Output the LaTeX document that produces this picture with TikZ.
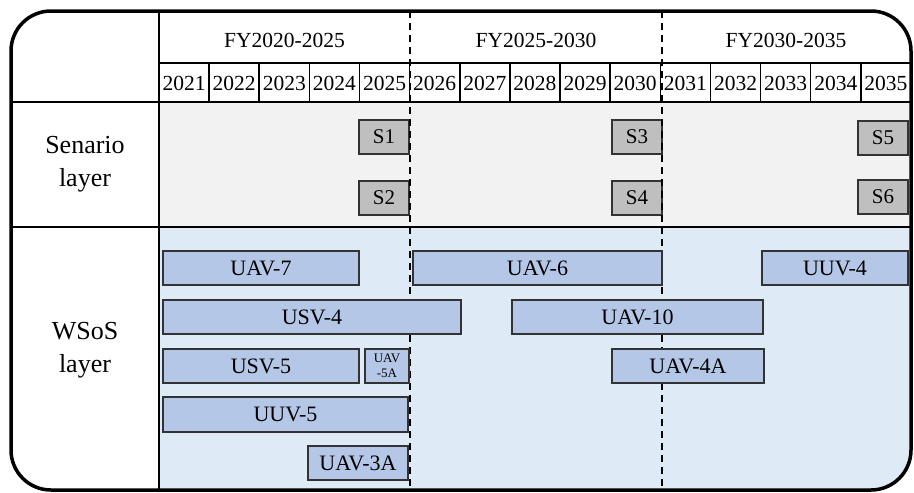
\documentclass[tikz,border=0pt]{standalone}
\usepackage{fontspec}
\setmainfont{Liberation Serif}
\definecolor{scbg}{HTML}{F2F2F2}
\definecolor{wsbg}{HTML}{DEEAF6}
\definecolor{barfill}{HTML}{B4C7E7}
\definecolor{sfill}{HTML}{BFBFBF}
\definecolor{edge}{HTML}{333333}
\begin{document}
\begin{tikzpicture}[x=1pt,y=-1pt,
  bar/.style={draw=edge,fill=barfill,line width=1.4pt,inner sep=0pt,minimum height=34pt,font=\fontsize{22}{24}\selectfont},
  sbox/.style={draw=edge,fill=sfill,line width=1.4pt,inner sep=0pt,minimum width=50pt,minimum height=34pt,font=\fontsize{21}{23}\selectfont},
  yr/.style={inner sep=0pt,font=\fontsize{21.5}{23}\selectfont},
  fy/.style={inner sep=0pt,font=\fontsize{21.5}{23}\selectfont},
  lbl/.style={inner sep=0pt,align=center,font=\fontsize{26}{33}\selectfont},
  grid/.style={line width=1.6pt,black},
  era/.style={line width=2pt,black,dash pattern=on 7pt off 5pt}]
\useasboundingbox (0,0) rectangle (914,493);
% backgrounds
\begin{scope}
  \clip[rounded corners=40pt] (11,11) rectangle (911,490);
  \fill[white] (11,11) rectangle (911,490);
  \fill[scbg] (159,102) rectangle (911,227);
  \fill[wsbg] (159,227) rectangle (911,490);
\end{scope}
% coordinates
\coordinate (tl) at (159,11);
\coordinate (bl) at (159,490);
\coordinate (h1l) at (159,63);
\coordinate (h1r) at (911,63);
\coordinate (h2l) at (11,102);
\coordinate (h2r) at (911,102);
\coordinate (h3l) at (11,227);
\coordinate (h3r) at (911,227);
\coordinate (d1t) at (410,11);
\coordinate (d1b) at (410,490);
\coordinate (d2t) at (662,11);
\coordinate (d2b) at (662,490);
% era dashed lines
\draw[era] (d1t) -- (d1b);
\draw[era] (d2t) -- (d2b);
% grid lines
\draw[line width=2pt] (tl) -- (bl);
\draw[grid] (h1l) -- (h1r);
\draw[line width=2.2pt] (h2l) -- (h2r);
\draw[line width=2.2pt] (h3l) -- (h3r);
\foreach \k in {1,...,14} {
  \coordinate (ct\k) at (159+50.13*\k,63);
  \coordinate (cb\k) at (159+50.13*\k,102);
  \draw[grid] (ct\k) -- (cb\k);
}
% header texts
\node[fy] (fy1) at (284.5,40) {FY2020-2025};
\node[fy] (fy2) at (536,40) {FY2025-2030};
\node[fy] (fy3) at (786,40) {FY2030-2035};
\foreach \y [count=\i from 0] in {2021,...,2035} {
  \node[yr] (y\y) at (159+50.13*\i+25.07,83) {\y};
}
% left labels
\node[lbl] (scen) at (85,164) {Senario\\layer};
\node[lbl] (wsos) at (85,350) {WSoS\\layer};
% scenarios
\node[sbox] (S1) at (384,137) {S1};
\node[sbox] (S2) at (384,198) {S2};
\node[sbox] (S3) at (637,137) {S3};
\node[sbox] (S4) at (637,198) {S4};
\node[sbox] (S5) at (883,138) {S5};
\node[sbox] (S6) at (883,197) {S6};
% systems
\node[bar,minimum width=196pt] (uav7) at (261,268) {UAV-7};
\node[bar,minimum width=249pt] (uav6) at (537.5,268) {UAV-6};
\node[bar,minimum width=146pt] (uuv4) at (835,268) {UUV-4};
\node[bar,minimum width=298pt] (usv4) at (312,317) {USV-4};
\node[bar,minimum width=251pt] (uav10) at (637.5,317) {UAV-10};
\node[bar,minimum width=196pt] (usv5) at (261,366) {USV-5};
\node[bar,minimum width=44pt,align=center,font=\fontsize{13}{15}\selectfont] (uav5a) at (387,366) {UAV\\-5A};
\node[bar,minimum width=152pt] (uav4a) at (688,366) {UAV-4A};
\node[bar,minimum width=245pt,minimum height=35pt] (uuv5) at (285.5,414.5) {UUV-5};
\node[bar,minimum width=100pt] (uav3a) at (358,463) {UAV-3A};
% era lines over the right edges that sit on them
\draw[era] (S1.north east -| d1t) -- (S2.south east -| d1t);
\draw[era] (S3.north east -| d2t) -- (S4.south east -| d2t);
% outer frame
\draw[line width=3.5pt,rounded corners=40pt] (11,11) rectangle (911,490);
\end{tikzpicture}
\end{document}
